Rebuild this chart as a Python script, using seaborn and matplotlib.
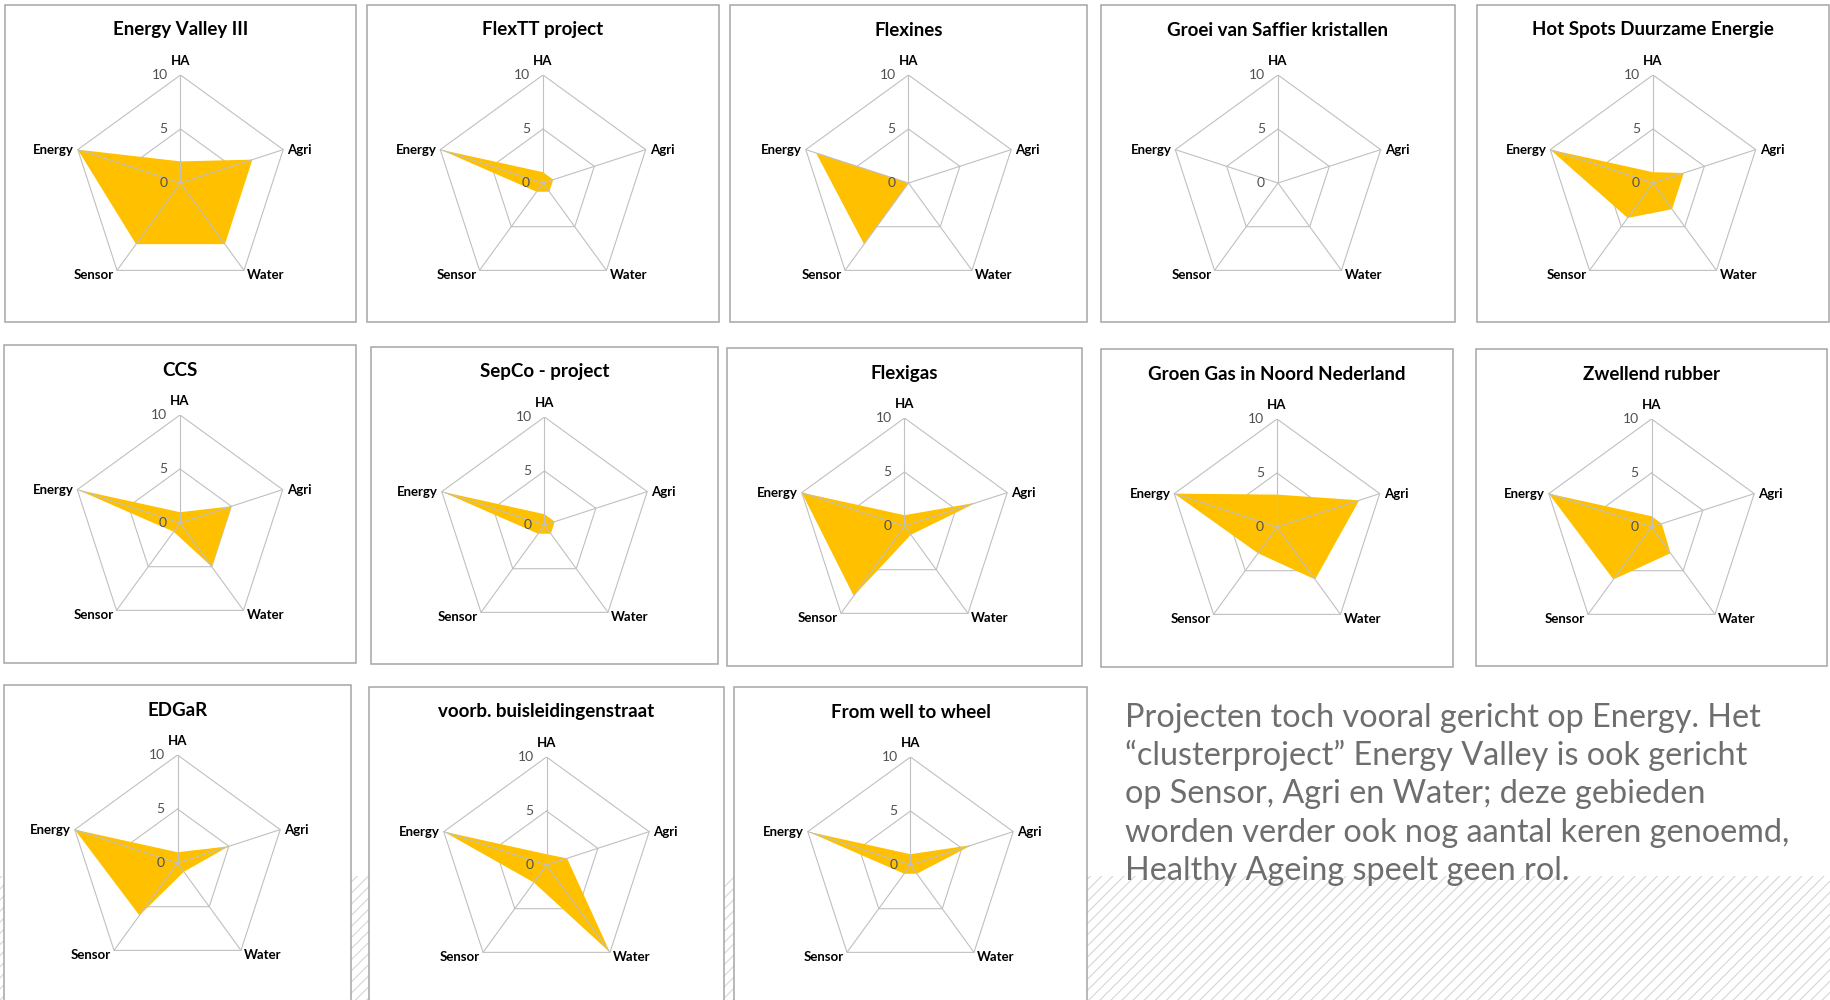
import numpy as np
import pandas as pd
import matplotlib
matplotlib.use("Agg")
import matplotlib.pyplot as plt
import seaborn as sns
from matplotlib.patches import Rectangle

# ---------------- data ----------------
projects = [
    "Energy Valley III", "FlexTT project", "Flexines",
    "Groei van Saffier kristallen", "Hot Spots Duurzame Energie",
    "CCS", "SepCo - project", "Flexigas", "Groen Gas in Noord Nederland",
    "Zwellend rubber", "EDGaR", "voorb. buisleidingenstraat",
    "From well to wheel",
]
categories = ["HA", "Agri", "Water", "Sensor", "Energy"]
ha     = [2, 1, 0, 0, 1, 1, 1, 1, 3, 1, 1, 1, 1]
agri   = [7, 1, 0, 0, 3, 5, 1, 7, 8, 1, 5, 2, 6]
water  = [7, 1, 0, 0, 3, 5, 1, 1, 6, 3, 1, 10, 1]
sensor = [7, 1, 7, 0, 4, 1, 1, 8, 3, 6, 6, 2, 1]
energy = [10, 10, 9, 0, 10, 10, 10, 10, 10, 10, 10, 10, 10]
r_ticks = [0, 5, 10]
r_max = 10
note_lines = [
    "Projecten toch vooral gericht op Energy. Het",
    "\u201cclusterproject\u201d Energy Valley is ook gericht",
    "op Sensor, Agri en Water; deze gebieden",
    "worden verder ook nog aantal keren genoemd,",
    "Healthy Ageing speelt geen rol.",
]

df = pd.DataFrame({"project": projects, "HA": ha, "Agri": agri,
                   "Water": water, "Sensor": sensor, "Energy": energy})

# ---------------- layout (pixels) ----------------
W, H = 1831, 1000
panels = [  # left, top, right, bottom
    (5, 5, 356, 322), (367, 5, 719, 322), (730, 5, 1087, 322),
    (1101, 5, 1455, 322), (1477, 5, 1829, 322),
    (4, 345, 356, 663), (371, 347, 718, 664), (727, 348, 1082, 666),
    (1101, 349, 1453, 667), (1476, 349, 1827, 666),
    (4, 685, 351, 1010), (369, 687, 724, 1010), (734, 687, 1087, 1010),
]
RAD = 108
center_dy = 178
title_dy = 25

sns.set_theme(style="white")
plt.rcParams["font.family"] = ["Lato", "DejaVu Sans"]
plt.rcParams["hatch.linewidth"] = 0.8

fig = plt.figure(figsize=(W / 100, H / 100), dpi=100)
fig.patch.set_facecolor("white")

# hatched band at the bottom
fig.add_artist(Rectangle((0, 0), 1, 124 / H, transform=fig.transFigure,
                         facecolor="white", edgecolor="#d6d6d6", hatch="///",
                         lw=0, zorder=0))

FILL = "#FFC000"
GRID = "#c0c0c0"
angles = np.arange(len(categories)) * 2 * np.pi / len(categories)
label_offsets = {
    "HA": ((0, 14), "center", "center"),
    "Agri": ((4, 0), "left", "center"),
    "Water": ((3, -5), "left", "center"),
    "Sensor": ((-3, -5), "right", "center"),
    "Energy": ((-4, 0), "right", "center"),
}

for i, row in df.iterrows():
    l, t, r, b = panels[i]
    fig.add_artist(Rectangle((l / W, 1 - b / H), (r - l) / W, (b - t) / H,
                             transform=fig.transFigure, facecolor="white",
                             edgecolor="#a6a6a6", lw=1.1, zorder=1))
    cx = (l + r) / 2
    cy = t + center_dy
    fig.text(cx / W, 1 - (t + title_dy) / H, row["project"], ha="center",
             va="center", fontsize=13.5, fontweight="bold", color="black",
             zorder=5)
    ax = fig.add_axes([(cx - RAD) / W, (H - cy - RAD) / H, 2 * RAD / W,
                       2 * RAD / H], zorder=3)
    ax.set_xlim(-r_max, r_max)
    ax.set_ylim(-r_max, r_max)
    ax.set_axis_off()
    # rings
    for rt in r_ticks[1:]:
        xs = np.append(rt * np.sin(angles), rt * np.sin(angles[0]))
        ys = np.append(rt * np.cos(angles), rt * np.cos(angles[0]))
        ax.plot(xs, ys, color=GRID, lw=0.8, zorder=1)
    # filled series
    vals = np.array([row[c] for c in categories], dtype=float)
    ax.fill(vals * np.sin(angles), vals * np.cos(angles), color=FILL, lw=0,
            zorder=2)
    # spokes
    for a in angles:
        ax.plot([0, r_max * np.sin(a)], [0, r_max * np.cos(a)], color=GRID,
                lw=0.8, zorder=3)
    # category labels
    for c, a in zip(categories, angles):
        off, ha_, va_ = label_offsets[c]
        ax.annotate(c, xy=(r_max * np.sin(a), r_max * np.cos(a)), xytext=off,
                    textcoords="offset pixels", ha=ha_, va=va_, fontsize=9.5,
                    fontweight="bold", color="black", annotation_clip=False)
    # radial tick labels
    for rt in r_ticks:
        ax.annotate(str(rt), xy=(0, rt), xytext=(-13, 0),
                    textcoords="offset pixels", ha="right", va="center",
                    fontsize=10, color="#505050", annotation_clip=False)

# note text
base_y = [727, 765, 803, 842, 880]
for line, by in zip(note_lines, base_y):
    fig.text(1125 / W, 1 - by / H, line, ha="left", va="baseline",
             fontsize=23.3, color="#6e6e6e", zorder=6)

fig.savefig("out.png", dpi=100, facecolor="white")
